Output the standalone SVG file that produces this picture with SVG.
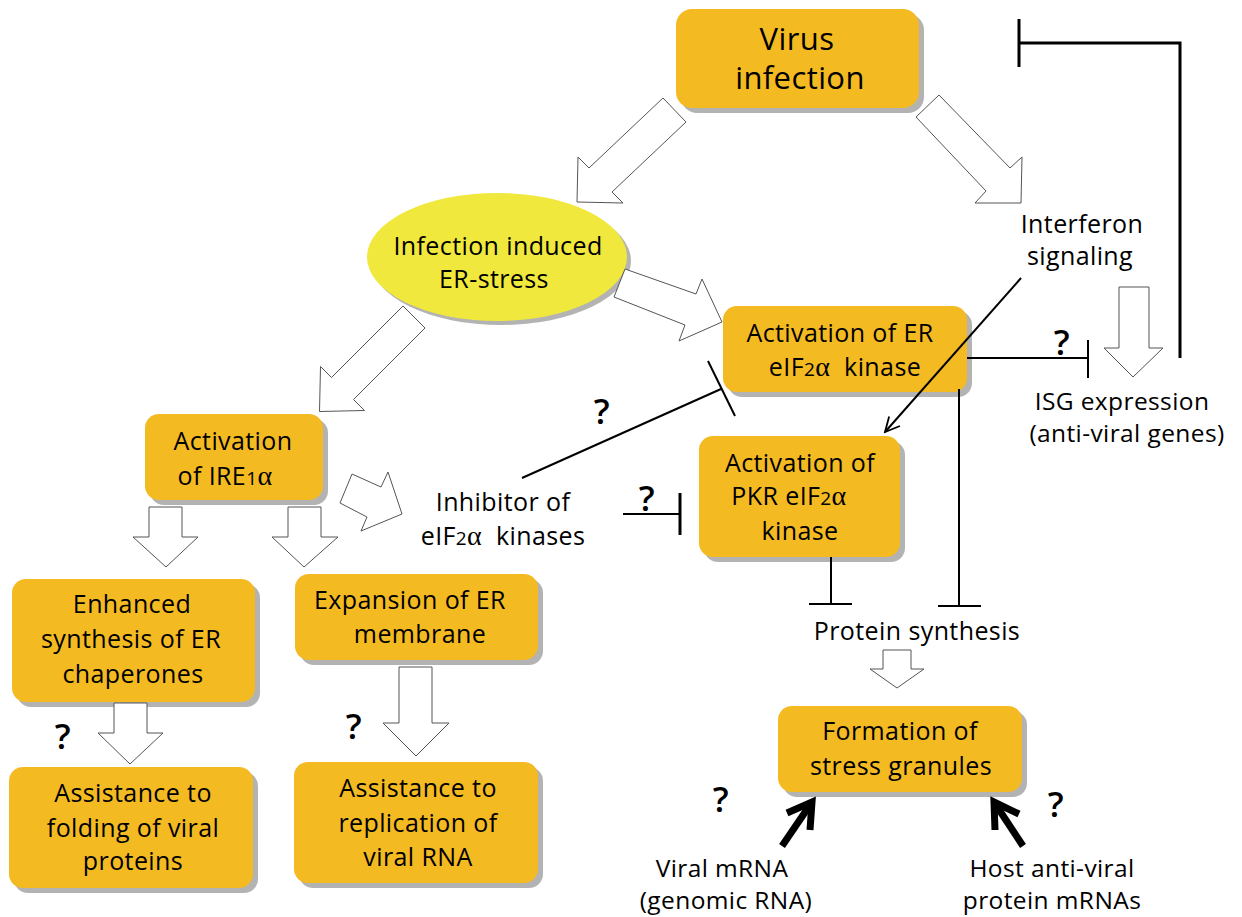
<svg xmlns="http://www.w3.org/2000/svg" width="1242" height="917" viewBox="0 0 1242 917">
<style>
text{font-family:"Open Sans","Noto Sans",sans-serif;fill:#000;text-anchor:middle;font-size:25px;letter-spacing:0.4px}
.sm{font-size:24.5px}
.box{fill:#F4BA22}
.sh{fill:#B3B3B3}
.ha{fill:#fff;stroke:#555;stroke-width:1}
.ln{stroke:#000;stroke-width:2;fill:none}
.lnb{stroke:#000;stroke-width:3;fill:none}
.thk{stroke:#000;stroke-width:7;fill:none;stroke-linejoin:miter}
.q{font-size:35px;font-weight:600}
.a{font-family:"Liberation Serif",serif;font-size:28px}
.d{font-size:19px}
</style>
<defs>
<marker id="open" viewBox="0 0 20 20" refX="18" refY="10" markerWidth="18" markerHeight="18" markerUnits="userSpaceOnUse" orient="auto">
<path d="M2,2 L18,10 L2,18" fill="none" stroke="#000" stroke-width="2"/>
</marker>
</defs>
<g id="virus">
<rect class="sh" x="681" y="14" width="243" height="99" rx="16"/>
<rect class="box" x="676" y="9" width="243" height="99" rx="16"/>
<text x="797" y="50" style="font-size:31px">Virus</text>
<text x="800" y="89" style="font-size:31px">infection</text>
</g>
<g id="er-stress">
<ellipse cx="501" cy="261" rx="130" ry="64" class="sh"/>
<ellipse cx="497" cy="257" rx="130" ry="64" fill="#F0E83C"/>
<text x="498" y="255">Infection induced</text>
<text x="494" y="288">ER-stress</text>
</g>
<g id="er-kinase">
<rect class="sh" x="728" y="311" width="244" height="86" rx="14"/>
<rect class="box" x="723" y="306" width="244" height="86" rx="14"/>
<text x="840" y="342">Activation of ER</text>
<text x="845" y="376">eIF<tspan class="d">2</tspan><tspan class="a">α</tspan>&#160; kinase</text>
</g>
<g id="pkr">
<rect class="sh" x="704" y="441" width="201" height="121" rx="14"/>
<rect class="box" x="699" y="436" width="201" height="121" rx="14"/>
<text x="800" y="472">Activation of</text>
<text x="789" y="505">PKR eIF<tspan class="d">2</tspan><tspan class="a">α</tspan></text>
<text x="800" y="540">kinase</text>
</g>
<g id="ire1">
<rect class="sh" x="150" y="419" width="178" height="86" rx="14"/>
<rect class="box" x="145" y="414" width="178" height="86" rx="14"/>
<text x="233" y="450">Activation</text>
<text x="225" y="485">of IRE<tspan class="d">1</tspan><tspan class="a">α</tspan></text>
</g>
<g id="enhanced">
<rect class="sh" x="17" y="584" width="243" height="123" rx="14"/>
<rect class="box" x="12" y="579" width="243" height="123" rx="14"/>
<text x="132" y="613">Enhanced</text>
<text x="131" y="648">synthesis of ER</text>
<text x="133" y="683">chaperones</text>
</g>
<g id="expansion">
<rect class="sh" x="300" y="579" width="243" height="86" rx="14"/>
<rect class="box" x="295" y="574" width="243" height="86" rx="14"/>
<text x="410" y="609">Expansion of ER</text>
<text x="420" y="643">membrane</text>
</g>
<g id="folding">
<rect class="sh" x="14" y="772" width="244" height="121" rx="14"/>
<rect class="box" x="9" y="767" width="244" height="121" rx="14"/>
<text x="133" y="802">Assistance to</text>
<text x="133" y="837">folding of viral</text>
<text x="133" y="870">proteins</text>
</g>
<g id="replication">
<rect class="sh" x="299" y="767" width="244" height="121" rx="14"/>
<rect class="box" x="294" y="762" width="244" height="121" rx="14"/>
<text x="418" y="797">Assistance to</text>
<text x="418" y="832">replication of</text>
<text x="418" y="866">viral RNA</text>
</g>
<g id="stress-granules">
<rect class="sh" x="783" y="711" width="244" height="86" rx="14"/>
<rect class="box" x="778" y="706" width="244" height="86" rx="14"/>
<text x="900" y="740">Formation of</text>
<text x="901" y="775">stress granules</text>
</g>
<g id="inhibitor">
<text x="503" y="511">Inhibitor of</text>
<text x="503" y="545">eIF<tspan class="d">2</tspan><tspan class="a">α</tspan>&#160; kinases</text>
</g>
<g id="interferon">
<text x="1082" y="233">Interferon</text>
<text x="1080" y="265">signaling</text>
</g>
<g id="isg">
<text class="sm" x="1122" y="410">ISG expression</text>
<text class="sm" x="1127" y="442">(anti-viral genes)</text>
</g>
<g id="protein-synthesis">
<text x="917" y="640">Protein synthesis</text>
</g>
<g id="viral-mrna">
<text class="sm" x="722" y="877">Viral mRNA</text>
<text class="sm" x="726" y="909">(genomic RNA)</text>
</g>
<g id="host-mrna">
<text class="sm" x="1052" y="877">Host anti-viral</text>
<text class="sm" x="1052" y="909">protein mRNAs</text>
</g>
<g id="connectors">
<polygon class="ha" points="663,98 686,122 612,192 623,203 577,202 578,157 589,168"/>
<polygon class="ha" points="939,95 1010,168 1022,157 1021,203 975,203 986,191 916,117"/>
<polygon class="ha" points="625,269 696,294 702,279 722,322 679,341 685,325 614,297"/>
<polygon class="ha" points="403,306 425,328 353.5,399.5 364.5,410.5 319.5,411.5 320.5,366.5 331.5,377.5"/>
<polygon class="ha" points="352,474 381,487 388,472 402,514 361,531 367,517 340,503"/>
<polygon class="ha" points="149,507 182,507 182,537 198,537 166,567 133,537 149,537"/>
<polygon class="ha" points="288,507 321,507 321,537 338,537 304,567 272,537 288,537"/>
<polygon class="ha" points="114,703 147,703 147,733 163,733 130,764 98,733 114,733"/>
<polygon class="ha" points="399,667 432,667 432,723 449,723 416,756 383,723 399,723"/>
<polygon class="ha" points="883,650 911,650 911,669 924,669 897,688 870,669 883,669"/>
<polygon class="ha" points="1119,287 1149,287 1149,348 1163,348 1133,377 1104,348 1119,348"/>
<line class="ln" x1="1021" y1="278" x2="885" y2="432" marker-end="url(#open)"/>
<line class="ln" x1="522" y1="478" x2="721" y2="389"/>
<line class="ln" x1="708" y1="361" x2="735" y2="416"/>
<line class="ln" x1="623" y1="514" x2="680" y2="514"/>
<line class="lnb" x1="680" y1="493" x2="680" y2="535"/>
<line class="ln" x1="967" y1="358" x2="1088" y2="358"/>
<line class="ln" x1="1088" y1="340" x2="1088" y2="378"/>
<line class="ln" x1="959" y1="389" x2="959" y2="606"/>
<line class="ln" x1="938" y1="606" x2="981" y2="606"/>
<line class="ln" x1="831" y1="557" x2="831" y2="604"/>
<line class="ln" x1="809" y1="604" x2="852" y2="604"/>
<polyline class="lnb" points="1180,358 1180,43 1019,43"/>
<line class="lnb" x1="1019" y1="19" x2="1019" y2="67"/>
<line class="thk" x1="782" y1="846" x2="812" y2="802"/>
<polyline class="thk" points="787,813 812,802 810,830"/>
<line class="thk" x1="1023" y1="846" x2="994" y2="802"/>
<polyline class="thk" points="995,830 994,802 1019,814"/>
</g>
<g id="questions">
<text class="q" x="602" y="424">?</text>
<text class="q" x="647" y="511">?</text>
<text class="q" x="1062" y="355">?</text>
<text class="q" x="63" y="749">?</text>
<text class="q" x="354" y="739">?</text>
<text class="q" x="721" y="812">?</text>
<text class="q" x="1056" y="817">?</text>
</g>
</svg>
